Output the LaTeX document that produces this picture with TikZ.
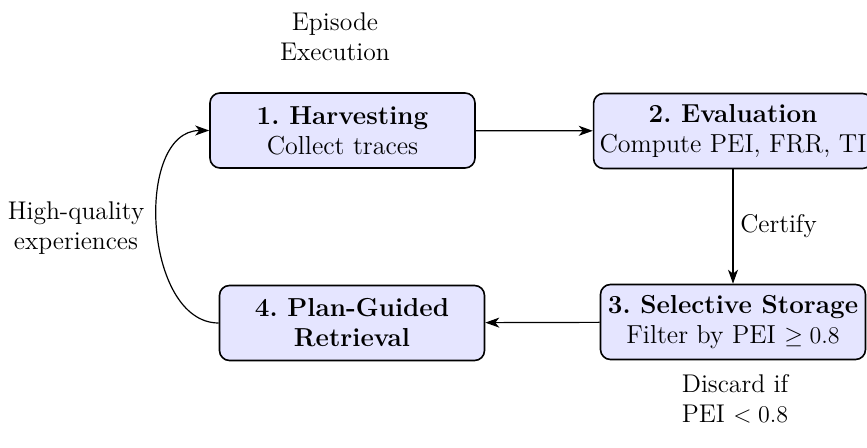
\documentclass[tikz,border=0pt]{standalone}
\usetikzlibrary{arrows.meta,positioning}
\begin{document}
\frenchspacing
\begin{tikzpicture}[x=0.5pt,y=-0.5pt,
  stepbox/.style={draw=black,thick,fill=blue!10,rounded corners=5pt,align=center,
    minimum width=132.5pt,minimum height=37.5pt,inner sep=3pt,font=\fontsize{13}{15}\selectfont},
  lbl/.style={align=center,font=\fontsize{12.8}{15}\selectfont},
  arr/.style={semithick,-{Stealth[length=7pt,width=5pt,inset=2pt]}}]
\useasboundingbox (0,0) rectangle (867,448);
\node[stepbox] (b1) at (342.5,130.5) {\textbf{1. Harvesting}\\Collect traces};
\node[stepbox] (b2) at (733,131) {\textbf{2. Evaluation}\\Compute PEI, FRR, TI};
\node[stepbox] (b3) at (733,322) {\textbf{3. Selective Storage}\\Filter by PEI $\geq 0.8$};
\node[stepbox] (b4) at (352,323) {\textbf{4. Plan-Guided}\\\textbf{Retrieval}};
\node[lbl] (ep) at (335,37) {Episode\\Execution};
\node[lbl] (hq) at (76,228) {High-quality\\experiences};
\node[lbl] (dc) at (735,399) {Discard if\\PEI $< 0.8$};
\draw[arr] (b1) -- (b2);
\draw[arr] (b2) -- node[right,lbl] (cf) {Certify} (b3);
\draw[arr] (b3) -- (b4);
\draw[arr] (b4.west) to[out=180,in=180] (b1.west);
\end{tikzpicture}
\end{document}
